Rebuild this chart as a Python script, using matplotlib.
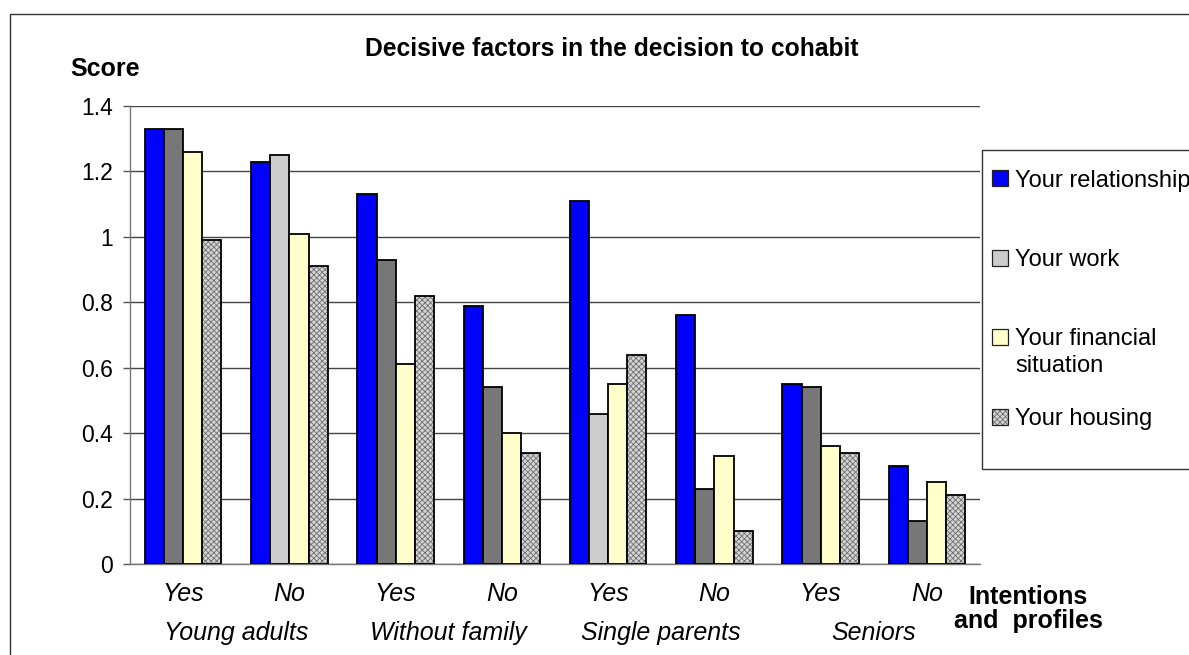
import matplotlib.pyplot as plt
from matplotlib.patches import Rectangle
import numpy as np

plt.rcParams['font.family'] = ['Liberation Sans', 'DejaVu Sans']
plt.rcParams['hatch.linewidth'] = 0.6

# scores per intention (Yes / No) within each profile
profiles = ['Young adults', 'Without family', 'Single parents', 'Seniors']
intentions = ['Yes', 'No', 'Yes', 'No', 'Yes', 'No', 'Yes', 'No']
factors = ['Your relationship', 'Your work', 'Your financial\nsituation', 'Your housing']

relationship = [1.33, 1.23, 1.13, 0.79, 1.11, 0.76, 0.55, 0.30]
work = [1.33, 1.25, 0.93, 0.54, 0.46, 0.23, 0.54, 0.13]
financial = [1.26, 1.01, 0.61, 0.40, 0.55, 0.33, 0.36, 0.25]
housing = [0.99, 0.91, 0.82, 0.34, 0.64, 0.10, 0.34, 0.21]

# work bars are shaded differently in a couple of groups
work_shades = ['#777777', '#cccccc', '#777777', '#777777',
               '#cccccc', '#777777', '#777777', '#777777']
hatch_face, hatch_ink, hatch = '#d4d4d4', '#707070', 'xxxxxx'

W, H = 1189, 655
fig = plt.figure(figsize=(W / 100, H / 100), dpi=100)
ax = fig.add_axes([130 / W, 1 - 564 / H, 850 / W, 458 / H])

x = np.arange(len(intentions))
bw = 0.18
edge = dict(edgecolor='black', linewidth=1.3)

ax.bar(x - 1.5 * bw, relationship, bw, color='#0000ff', zorder=3, **edge)
ax.bar(x - 0.5 * bw, work, bw, color=work_shades, zorder=3, **edge)
ax.bar(x + 0.5 * bw, financial, bw, color='#ffffcc', zorder=3, **edge)
# hatched fill first, then the black outline on top
ax.bar(x + 1.5 * bw, housing, bw, color=hatch_face, hatch=hatch,
       edgecolor=hatch_ink, linewidth=0, zorder=3)
ax.bar(x + 1.5 * bw, housing, bw, fill=False, zorder=4, **edge)

ax.set_xlim(-0.5, 7.5)
ax.set_ylim(0, 1.4)
ax.set_yticks(np.arange(0, 1.41, 0.2))
ax.set_yticklabels(['0', '0.2', '0.4', '0.6', '0.8', '1', '1.2', '1.4'])
ax.yaxis.grid(True, color='#444444', linewidth=1.0, zorder=0)
ax.set_axisbelow(True)

ax.set_xticks(x)
ax.set_xticklabels(intentions, fontstyle='italic', fontsize=18)
ax.tick_params(axis='x', length=0, pad=13)
ax.tick_params(axis='y', direction='out', length=5, width=1,
               color='#555555', labelsize=16.5, pad=7)

for s in ['top', 'right']:
    ax.spines[s].set_visible(False)
for s in ['left', 'bottom']:
    ax.spines[s].set_color('#777777')
    ax.spines[s].set_linewidth(1.0)

for i, name in enumerate(profiles):
    ax.text(2 * i + 0.5, -0.166, name, transform=ax.get_xaxis_transform(),
            ha='center', va='baseline', fontstyle='italic', fontsize=18)

fig.text(612 / W, 1 - 49 / H, 'Decisive factors in the decision to cohabit',
         ha='center', va='center', fontweight='bold', fontsize=17.7)
fig.text(70 / W, 1 - 69 / H, 'Score', ha='left', va='center',
         fontweight='bold', fontsize=18)
fig.text(1028 / W, 1 - 609 / H, 'Intentions\nand  profiles', ha='center',
         va='center', fontweight='bold', fontsize=18, linespacing=1.05)

# outer chart frame and legend frame
fig.patches.append(Rectangle((10 / W, -0.05), 1.2, 1.05 - 14 / H,
                             transform=fig.transFigure, fill=False,
                             edgecolor='#333333', linewidth=1.0))
fig.patches.append(Rectangle((982 / W, 1 - 469 / H), 0.3, 319 / H,
                             transform=fig.transFigure, fill=False,
                             edgecolor='#333333', linewidth=1.0))

# legend entries: key square plus label, one row each
row_y = [178, 258, 337, 417]
line_step = 26
key_faces = ['#0000ff', '#cccccc', '#ffffcc', hatch_face]
for k, (label, face, y) in enumerate(zip(factors, key_faces, row_y)):
    box = (992 / W, 1 - (y + 8) / H)
    if k == 3:
        fig.patches.append(Rectangle(box, 16 / W, 16 / H, transform=fig.transFigure,
                                     facecolor=face, hatch=hatch,
                                     edgecolor=hatch_ink, linewidth=0))
    fig.patches.append(Rectangle(box, 16 / W, 16 / H, transform=fig.transFigure,
                                 facecolor=face if k < 3 else 'none',
                                 edgecolor='#222222', linewidth=0.9))
    # baseline alignment uses the last line of a wrapped label
    base = y + 8.5 + line_step * label.count('\n')
    fig.text(1015 / W, 1 - base / H, label, ha='left', va='baseline',
             fontsize=17, linespacing=1.27)

fig.savefig('out.png', dpi=100)
